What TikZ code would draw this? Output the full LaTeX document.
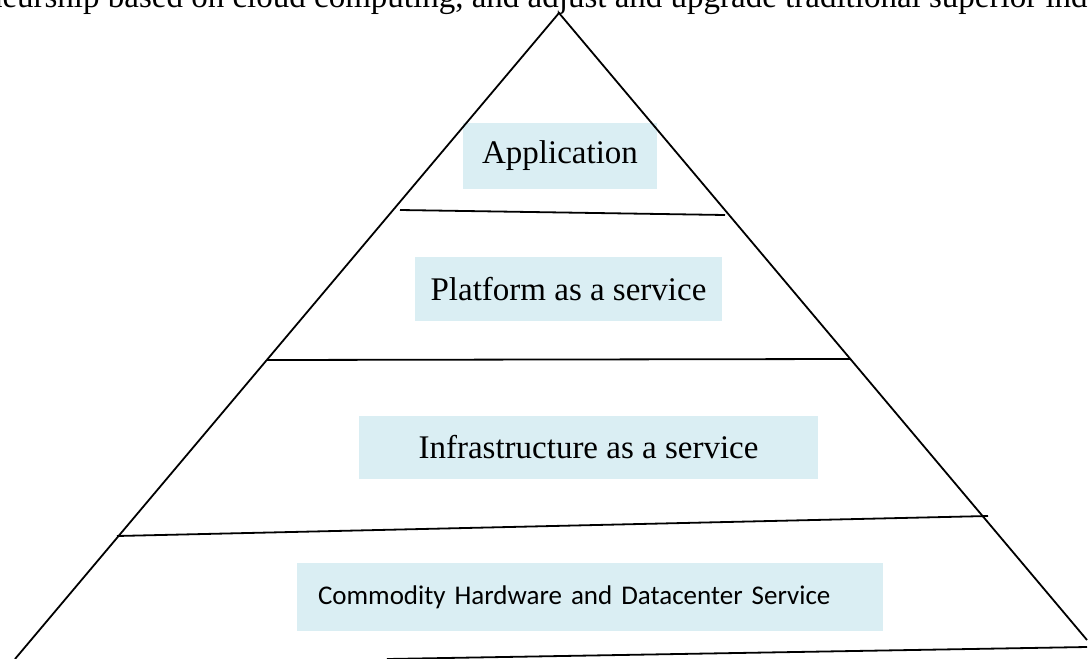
\documentclass[tikz,border=0pt]{standalone}
\usepackage{fontspec}
\setmainfont{Liberation Serif}
\newfontfamily\calibri{Carlito}
\definecolor{layerblue}{HTML}{DAEEF3}
\tikzset{layer/.style = {fill = layerblue, inner sep = 0pt, font = \fontsize{16.5}{20}\selectfont}}

\begin{document}
\begin{tikzpicture}[x = 0.5pt, y = -0.5pt, line width = 0.9pt]
\useasboundingbox (0,0) rectangle (1088,659);

% text line of the page above the figure, cut off
\node[anchor = base west, inner sep = 0pt, font = \fontsize{16.5}{20}\selectfont] (LINE) at (-123,7) {entrepreneurship based on cloud computing, and adjust and upgrade traditional superior industries};

\draw (560,156) node[layer, minimum width = 97pt, minimum height = 33pt](APP){Application}
(568.5,289) node[layer, minimum width = 153.5pt, minimum height = 32pt](PAAS){Platform as a service}
(588.5,447.5) node[layer, minimum width = 229.5pt, minimum height = 31.5pt](IAAS){Infrastructure as a service}
(590,597) node[layer, minimum width = 293pt, minimum height = 34pt, inner xsep = 10.5pt, text width = 272pt, align = left, font = \calibri\fontsize{13.5}{16}\selectfont](HW){Commodity Hardware and Datacenter Service};

\coordinate (TOP) at (559,13);
\coordinate (BL) at (15,659);
\coordinate (BR) at (1087,640);
\draw (BL) -- (TOP) -- (BR);

\draw (400,210) -- (725,215)
(267,360) -- (850,359)
(117,536) -- (988,516)
(387,659) -- (1087,647);
\end{tikzpicture}
\end{document}
